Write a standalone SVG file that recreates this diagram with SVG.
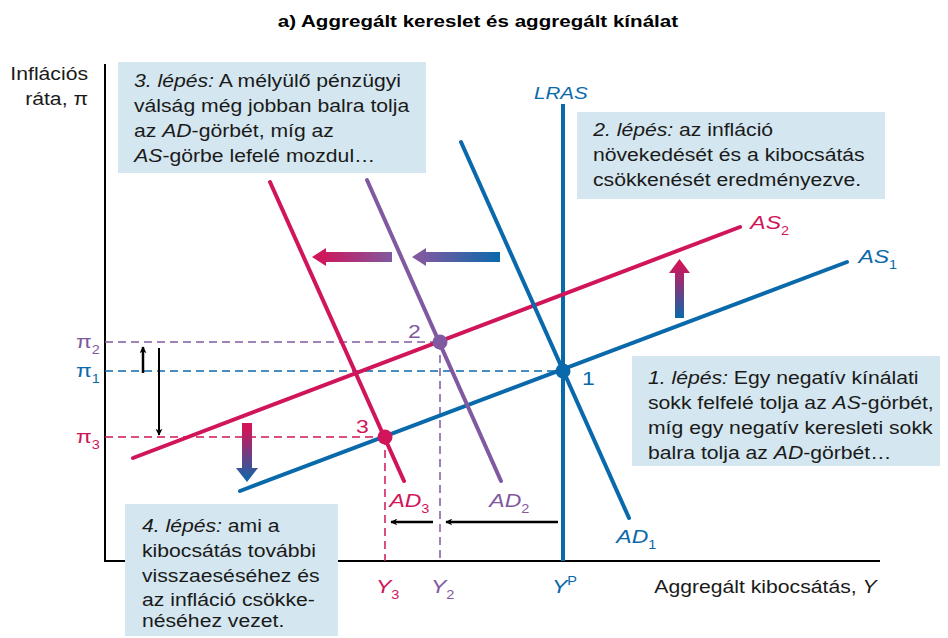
<svg xmlns="http://www.w3.org/2000/svg" width="948" height="638" viewBox="0 0 948 638">
<style>
text{font-family:"Liberation Sans",Arial,sans-serif;transform-box:fill-box;transform-origin:left center;transform:scaleX(1.21);}
text.e{transform-origin:right center;}
text.m{transform-origin:center center;}
.t{font-size:17.5px;fill:#1a1a1a;}
.i{font-style:italic;}
.box{fill:#d4e6ef;}
.red{stroke:#d0155a;}
.pur{stroke:#8059a0;}
.blu{stroke:#0a69ab;}
.curve{stroke-width:4;fill:none;stroke-linecap:round;}
.dash{stroke-width:1.5;stroke-dasharray:8 5;fill:none;}
.lbl{font-size:19px;font-style:italic;}
.sub{font-size:12px;font-style:normal;}
</style>
<defs>
<marker id="ah" viewBox="0 0 10 10" refX="9" refY="5" markerWidth="7" markerHeight="7" markerUnits="userSpaceOnUse" orient="auto">
<path d="M0,0 L10,5 L0,10 L3,5 Z" fill="#000"/>
</marker>
<linearGradient id="gUp" x1="0" y1="0" x2="0" y2="1"><stop offset="0.1" stop-color="#d0155a"/><stop offset="1" stop-color="#0a69ab"/></linearGradient>
<linearGradient id="gL1" x1="0" y1="0" x2="1" y2="0"><stop offset="0.1" stop-color="#d0155a"/><stop offset="1" stop-color="#8059a0"/></linearGradient>
<linearGradient id="gL2" x1="0" y1="0" x2="1" y2="0"><stop offset="0.1" stop-color="#8059a0"/><stop offset="1" stop-color="#0a69ab"/></linearGradient>
</defs>

<rect width="948" height="638" fill="#fff"/>

<text x="478" y="27" text-anchor="middle" class="m" style="font-size:17px;font-weight:bold;fill:#000">a) Aggregált kereslet és aggregált kínálat</text>

<g id="axes">
<line x1="105" y1="64" x2="105" y2="562" stroke="#000" stroke-width="2"/>
<line x1="104" y1="561" x2="880" y2="561" stroke="#000" stroke-width="2"/>
<text x="88" y="80" text-anchor="end" class="t e">Inflációs</text>
<text x="88" y="105" text-anchor="end" class="t e">ráta, π</text>
<text x="877" y="593" text-anchor="end" class="t e">Aggregált kibocsátás, <tspan class="i">Y</tspan></text>
</g>

<g id="guides">
<line x1="105" y1="342" x2="440" y2="342" class="dash pur"/>
<line x1="105" y1="371" x2="563" y2="371" class="dash blu"/>
<line x1="105" y1="437" x2="385" y2="437" class="dash red"/>
<line x1="440" y1="342" x2="440" y2="561" class="dash pur"/>
<line x1="385" y1="437" x2="385" y2="561" class="dash red"/>
<text x="76" y="348" style="font-size:19px;fill:#8059a0">π<tspan class="sub" dy="6">2</tspan></text>
<text x="76" y="377" style="font-size:19px;fill:#0a69ab">π<tspan class="sub" dy="6">1</tspan></text>
<text x="76" y="443" style="font-size:19px;fill:#d0155a">π<tspan class="sub" dy="6">3</tspan></text>
<text x="376" y="593" class="lbl" fill="#d0155a">Y<tspan class="sub" dy="6">3</tspan></text>
<text x="431" y="593" class="lbl" fill="#8059a0">Y<tspan class="sub" dy="6">2</tspan></text>
<text x="552" y="593" class="lbl" fill="#0a69ab">Y<tspan class="sub" dy="-8">P</tspan></text>
</g>

<g id="LRAS">
<line x1="563" y1="104" x2="563" y2="561" class="blu" stroke-width="4"/>
<text x="534" y="99" class="lbl" style="font-size:17px" fill="#0a69ab">LRAS</text>
</g>

<g id="AS1">
<line x1="240" y1="491" x2="847" y2="262" class="curve blu"/>
<text x="858" y="263" class="lbl" fill="#0a69ab">AS<tspan class="sub" dy="6">1</tspan></text>
</g>
<g id="AS2">
<line x1="133" y1="458" x2="740" y2="227" class="curve red"/>
<text x="750" y="229" class="lbl" fill="#d0155a">AS<tspan class="sub" dy="6">2</tspan></text>
</g>
<g id="AD1">
<line x1="461" y1="142" x2="629" y2="518" class="curve blu" stroke-width="3.5"/>
<text x="616" y="543" class="lbl" fill="#0a69ab">AD<tspan class="sub" dy="6">1</tspan></text>
</g>
<g id="AD2">
<line x1="367" y1="180" x2="501" y2="481" class="curve pur" stroke-width="3.5"/>
<text x="489" y="507" class="lbl" fill="#8059a0">AD<tspan class="sub" dy="6">2</tspan></text>
</g>
<g id="AD3">
<line x1="270" y1="182" x2="404" y2="481" class="curve red" stroke-width="3.5"/>
<text x="389" y="507" class="lbl" fill="#d0155a">AD<tspan class="sub" dy="6">3</tspan></text>
</g>

<g id="point1">
<circle cx="563" cy="371" r="7.5" fill="#0a69ab"/>
<text x="582" y="385" style="font-size:19px;fill:#0a69ab">1</text>
</g>
<g id="point2">
<circle cx="440" cy="342" r="7.5" fill="#8059a0"/>
<text x="408" y="338" style="font-size:19px;fill:#8059a0">2</text>
</g>
<g id="point3">
<circle cx="385" cy="437" r="7.5" fill="#d0155a"/>
<text x="356" y="433" style="font-size:19px;fill:#d0155a">3</text>
</g>

<g id="connectors">
<line x1="143" y1="373" x2="143" y2="347" stroke="#000" stroke-width="2.5" marker-end="url(#ah)"/>
<line x1="159" y1="348" x2="159" y2="435" stroke="#000" stroke-width="2" marker-end="url(#ah)"/>
<line x1="558" y1="522" x2="446" y2="522" stroke="#000" stroke-width="2.5" marker-end="url(#ah)"/>
<line x1="433" y1="522" x2="391" y2="522" stroke="#000" stroke-width="2.5" marker-end="url(#ah)"/>
<path d="M675,318 L675,273 L669,273 L679.5,259 L690,273 L684,273 L684,318 Z" fill="url(#gUp)"/>
<path d="M242,423 L242,468 L236,468 L247,482 L258,468 L252,468 L252,423 Z" fill="url(#gUp)"/>
<path d="M392,252 L326,252 L326,248 L312,257 L326,266 L326,262 L392,262 Z" fill="url(#gL1)"/>
<path d="M500,252 L426,252 L426,248 L412,257 L426,266 L426,262 L500,262 Z" fill="url(#gL2)"/>
</g>

<g id="box3">
<rect x="118" y="62" width="308" height="111" class="box"/>
<text x="134" y="87" class="t"><tspan class="i">3. lépés:</tspan> A mélyülő pénzügyi</text>
<text x="134" y="112" class="t">válság még jobban balra tolja</text>
<text x="134" y="137" class="t">az <tspan class="i">AD</tspan>-görbét, míg az</text>
<text x="134" y="162" class="t"><tspan class="i">AS</tspan>-görbe lefelé mozdul…</text>
</g>

<g id="box2">
<rect x="577" y="112" width="308" height="87" class="box"/>
<text x="593" y="136" class="t"><tspan class="i">2. lépés:</tspan> az infláció</text>
<text x="593" y="161" class="t">növekedését és a kibocsátás</text>
<text x="593" y="186" class="t">csökkenését eredményezve.</text>
</g>

<g id="box1">
<rect x="632" y="356" width="308" height="110" class="box"/>
<text x="648" y="384" class="t"><tspan class="i">1. lépés:</tspan> Egy negatív kínálati</text>
<text x="648" y="409" class="t">sokk felfelé tolja az <tspan class="i">AS</tspan>-görbét,</text>
<text x="648" y="434" class="t">míg egy negatív keresleti sokk</text>
<text x="648" y="459" class="t">balra tolja az <tspan class="i">AD</tspan>-görbét…</text>
</g>

<g id="box4">
<rect x="125" y="504" width="213" height="132" class="box"/>
<text x="142" y="532" class="t"><tspan class="i">4. lépés:</tspan> ami a</text>
<text x="142" y="557" class="t">kibocsátás további</text>
<text x="142" y="582" class="t">visszaeséséhez és</text>
<text x="142" y="606" class="t">az infláció csökke-</text>
<text x="142" y="627" class="t">néséhez vezet.</text>
</g>
</svg>
